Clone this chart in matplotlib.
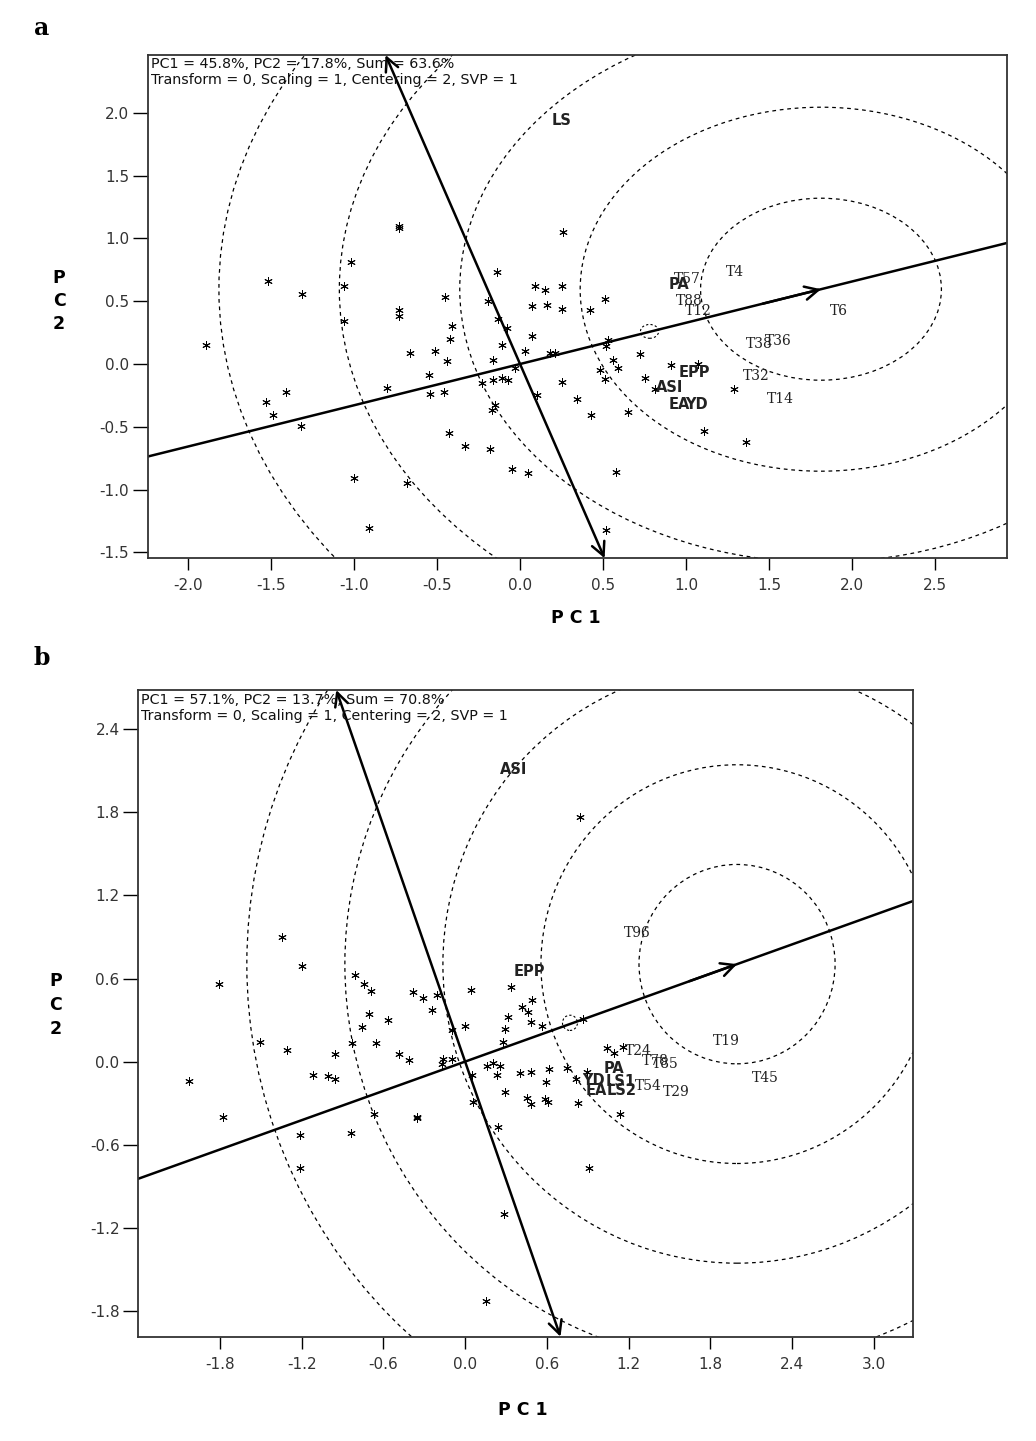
import numpy as np
import matplotlib.pyplot as plt
from matplotlib.patches import Circle

plt.rcParams['axes.unicode_minus'] = False
plt.rcParams['font.family'] = 'DejaVu Sans'

# ==========================
# Data
# ==========================

# panel a: genotype scores
a_x = [-0.73, -0.73, 0.26, -1.02, -1.52, -1.31, -1.06, -0.14, -0.45, -0.19,
       0.09, 0.15, 0.25, 0.51, 0.07, 0.16, 0.25, 0.42, -0.73, -0.73,
       -1.06, -0.13, -0.08, -0.41, -0.42, 0.07, -1.89, -0.11, 0.53, 0.52,
       -0.66, -0.51, 0.03, 0.18, 0.21, -0.44, -0.16, -0.03, 0.56, 0.48,
       -0.55, -0.16, -0.11, -0.07, -0.23, 0.25, 0.51, -0.80, -0.54, -0.46,
       0.10, 0.34, -0.15, -0.17, 0.43, -1.41, -1.53, -1.49, -1.32, -0.43,
       -0.33, -0.18, -0.05, 0.05, -1.00, -0.68, -0.91, 0.52, 0.58, 0.72,
       0.59, 0.75, 0.81, 0.91, 1.07, 1.29, 0.65, 1.11, 1.36]
a_y = [1.10, 1.08, 1.05, 0.81, 0.66, 0.56, 0.62, 0.73, 0.53, 0.50,
       0.62, 0.59, 0.62, 0.52, 0.46, 0.47, 0.44, 0.43, 0.43, 0.38,
       0.34, 0.36, 0.29, 0.30, 0.20, 0.22, 0.15, 0.15, 0.19, 0.14,
       0.09, 0.10, 0.10, 0.09, 0.09, 0.02, 0.03, -0.03, 0.03, -0.05,
       -0.09, -0.13, -0.11, -0.13, -0.15, -0.14, -0.12, -0.19, -0.24, -0.22,
       -0.25, -0.28, -0.33, -0.37, -0.41, -0.22, -0.30, -0.41, -0.49, -0.55,
       -0.65, -0.68, -0.84, -0.87, -0.91, -0.95, -1.31, -1.32, -0.86, 0.08,
       -0.03, -0.11, -0.20, -0.01, 0.00, -0.20, -0.38, -0.53, -0.62]

a_gen_names = ['T57', 'T4', 'T88', 'T12', 'T6', 'T38', 'T36', 'T32', 'T14']
a_gen_x = [1.01, 1.295, 1.02, 1.074, 1.92, 1.44, 1.556, 1.42, 1.566]
a_gen_y = [0.675, 0.735, 0.505, 0.425, 0.42, 0.16, 0.183, -0.096, -0.28]

a_trait_names = ['LS', 'PA', 'EPP', 'ASI', 'EA', 'YD']
a_trait_x = [0.25, 0.96, 1.05, 0.90, 0.96, 1.06]
a_trait_y = [1.94, 0.63, -0.07, -0.19, -0.32, -0.32]

a_ideal = (1.812, 0.596)      # average-environment arrow tip / circle centre
a_ring = 0.725
a_mean = (0.78, 0.26)
a_xlim = (-2.24, 2.93)
a_ylim = (-1.548, 2.462)
a_xticks = [-2.0, -1.5, -1.0, -0.5, 0.0, 0.5, 1.0, 1.5, 2.0, 2.5]
a_yticks = [-1.5, -1.0, -0.5, 0.0, 0.5, 1.0, 1.5, 2.0]
a_header = ('PC1 = 45.8%, PC2 = 17.8%, Sum = 63.6%\n'
            'Transform = 0, Scaling = 1, Centering = 2, SVP = 1')

# panel b: genotype scores
b_x = [-1.20, -1.81, -0.81, -0.74, -0.69, -0.38, -0.31, -0.21, -0.245, 0.04,
       0.335, 0.494, 0.416, 0.465, 0.313, 0.485, 0.568, 0.294, 0.281, 0.0,
       -0.093, -0.707, -0.568, -0.758, -1.505, -1.309, -0.952, -0.83, -0.653, -0.487,
       -0.411, -2.026, -1.114, -1.008, -0.954, -0.159, -0.098, -0.171, 0.049, 0.159,
       0.203, 0.257, 0.233, 0.404, 0.485, 0.617, 0.595, 0.294, 0.453, 0.485,
       0.587, 0.612, 0.751, 0.815, 0.898, 0.832, 1.04, 0.061, -1.777, -1.211,
       -0.839, -0.666, -0.35, -0.35, 0.245, -1.211, 0.91, 0.286, 0.154, 0.869,
       -1.346, 0.844, 1.138, 1.09, 1.16]
b_y = [0.69, 0.56, 0.625, 0.56, 0.51, 0.50, 0.456, 0.48, 0.37, 0.516,
       0.54, 0.444, 0.396, 0.36, 0.319, 0.287, 0.256, 0.235, 0.143, 0.259,
       0.227, 0.343, 0.30, 0.247, 0.143, 0.083, 0.052, 0.131, 0.131, 0.052,
       0.011, -0.139, -0.097, -0.105, -0.124, 0.018, 0.018, -0.018, -0.097, -0.032,
       -0.013, -0.032, -0.097, -0.085, -0.078, -0.054, -0.15, -0.222, -0.266, -0.309,
       -0.273, -0.295, -0.045, -0.129, -0.078, -0.302, 0.10, -0.295, -0.398, -0.531,
       -0.519, -0.379, -0.398, -0.41, -0.47, -0.771, -0.771, -1.103, -1.729, 0.307,
       0.90, 1.767, -0.382, 0.064, 0.107]

b_gen_names = ['T96', 'T19', 'T45', 'T24', 'T78', 'T85', 'T54', 'T29']
b_gen_x = [1.265, 1.921, 2.203, 1.272, 1.40, 1.47, 1.346, 1.554]
b_gen_y = [0.928, 0.147, -0.115, 0.076, 0.005, -0.015, -0.177, -0.218]

b_trait_names = ['ASI', 'EPP', 'PA', 'YD', 'LS1', 'EA', 'LS2']
b_trait_x = [0.355, 0.472, 1.094, 0.94, 1.14, 0.967, 1.15]
b_trait_y = [2.113, 0.65, -0.049, -0.134, -0.146, -0.206, -0.206]

b_ideal = (1.997, 0.704)
b_ring = 0.72
b_mean = (0.77, 0.28)
b_xlim = (-2.40, 3.287)
b_ylim = (-1.987, 2.684)
b_xticks = [-1.8, -1.2, -0.6, 0.0, 0.6, 1.2, 1.8, 2.4, 3.0]
b_yticks = [-1.8, -1.2, -0.6, 0.0, 0.6, 1.2, 1.8, 2.4]
b_header = ('PC1 = 57.1%, PC2 = 13.7%, Sum = 70.8%\n'
            'Transform = 0, Scaling = 1, Centering = 2, SVP = 1')

# ==========================
# Figure
# ==========================

W, H = 1036, 1441
fig = plt.figure(figsize=(W / 100, H / 100), dpi=100)
ax_a = fig.add_axes([148 / W, 1 - 558.3 / H, 858.7 / W, 503.3 / H])
ax_b = fig.add_axes([138.3 / W, 1 - 1336.7 / H, 774.4 / W, 646.7 / H])

asterisk = (6, 2, 0)


def biplot(ax, gx, gy, gen_names, gen_x, gen_y, trait_names, trait_x, trait_y,
           ideal, ring, mean, xlim, ylim, xticks, yticks, header):
    ax.set_xlim(*xlim)
    ax.set_ylim(*ylim)

    # concentric rings around the ideal genotype
    for k in range(1, 6):
        ax.add_patch(Circle(ideal, ring * k, fill=False, color='black',
                            lw=0.9, linestyle=(0, (3, 3))))
    ax.add_patch(Circle(mean, 0.055, fill=False, color='black',
                        lw=0.8, linestyle=(0, (2, 2))))

    # average environment axis and its ordinate
    ax.axline((0, 0), ideal, color='black', lw=1.8)
    d = 0.35
    ax.annotate('', xy=ideal,
                xytext=(ideal[0] - d, ideal[1] - d * ideal[1] / ideal[0]),
                arrowprops=dict(arrowstyle='->', lw=1.8, color='black',
                                mutation_scale=24, shrinkA=0, shrinkB=0))
    k = -ideal[1] / ideal[0]
    ax.annotate('', xy=(k * ylim[1], ylim[1]), xytext=(k * ylim[0], ylim[0]),
                arrowprops=dict(arrowstyle='<->', lw=1.8, color='black',
                                mutation_scale=24, shrinkA=0, shrinkB=0),
                annotation_clip=False)

    # genotypes
    ax.scatter(gx, gy, marker=asterisk, s=30, color='black', linewidths=0.7)

    for name, x, y in zip(gen_names, gen_x, gen_y):
        ax.text(x, y, name, ha='center', va='center', fontsize=10,
                family='DejaVu Serif', color='#222222')
    for name, x, y in zip(trait_names, trait_x, trait_y):
        ax.text(x, y, name, ha='center', va='center', fontsize=10.5,
                fontweight='bold', color='#222222')

    ax.text(0.004, 0.996, header, transform=ax.transAxes, ha='left',
            va='top', fontsize=10.3, linespacing=1.2, color='#111111')

    ax.set_xticks(xticks)
    ax.set_yticks(yticks)
    ax.set_xticklabels([f'{v:.1f}' for v in xticks])
    ax.set_yticklabels([f'{v:.1f}' for v in yticks])
    ax.tick_params(axis='y', length=10.5, width=1, pad=3, labelsize=11,
                   labelcolor='#333333')
    ax.tick_params(axis='x', length=8.5, width=1, pad=6, labelsize=11,
                   labelcolor='#333333')
    for sp in ax.spines.values():
        sp.set_linewidth(1.3)
        sp.set_color('#333333')


biplot(ax_a, a_x, a_y, a_gen_names, a_gen_x, a_gen_y, a_trait_names,
       a_trait_x, a_trait_y, a_ideal, a_ring, a_mean, a_xlim, a_ylim,
       a_xticks, a_yticks, a_header)
biplot(ax_b, b_x, b_y, b_gen_names, b_gen_x, b_gen_y, b_trait_names,
       b_trait_x, b_trait_y, b_ideal, b_ring, b_mean, b_xlim, b_ylim,
       b_xticks, b_yticks, b_header)

# axis titles and panel letters
def ftext(px, py, s, **kw):
    fig.text(px / W, 1 - py / H, s, ha='center', va='center', **kw)


ftext(576, 618, 'P C 1', fontsize=12.5, fontweight='bold')
ftext(523, 1410, 'P C 1', fontsize=12.5, fontweight='bold')
for i, ch in enumerate('PC2'):
    ftext(59, 278 + 23 * i, ch, fontsize=12.5, fontweight='bold')
    ftext(56, 981 + 24 * i, ch, fontsize=12.5, fontweight='bold')

ftext(42, 28, 'a', fontsize=17, fontweight='bold', family='DejaVu Serif')
ftext(42, 658, 'b', fontsize=17, fontweight='bold', family='DejaVu Serif')

fig.savefig('out.png', dpi=100)
